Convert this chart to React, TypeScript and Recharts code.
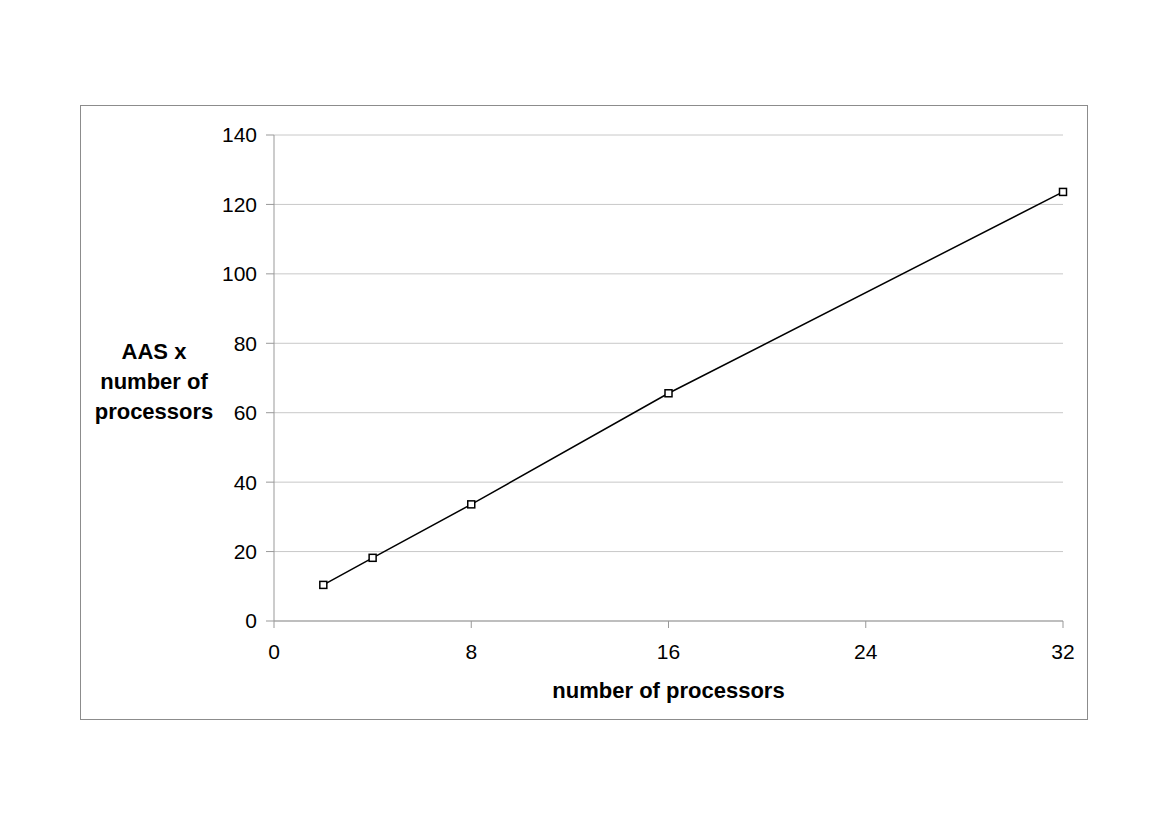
import { LineChart, Line, XAxis, YAxis, CartesianGrid } from 'recharts';

const processors = [2, 4, 8, 16, 32];
const aasTimesProcessors = [10.4, 18.2, 33.6, 65.6, 123.6];
const xTicks = [0, 8, 16, 24, 32];
const yTicks = [0, 20, 40, 60, 80, 100, 120, 140];
const yLabelLines = ['AAS x', 'number of', 'processors'];
const xLabel = 'number of processors';

const data = processors.map((p, i) => ({ p, v: aasTimesProcessors[i] }));

const FONT = '"Liberation Sans", Arial, sans-serif';

const SquareDot = (props: { cx?: number; cy?: number; index?: number }) => {
    const { cx, cy, index } = props;
    if (cx == null || cy == null) return null;
    return (
        <rect
            key={`dot-${index}`}
            x={cx - 3.5}
            y={cy - 3.5}
            width={7}
            height={7}
            fill="#fff"
            stroke="#000"
            strokeWidth={1.5}
        />
    );
};

const YLabel = (props: { viewBox?: { x: number; y: number; width: number; height: number } }) => {
    const vb = props.viewBox;
    if (!vb) return null;
    const mid = vb.y + vb.height / 2;
    return (
        <g>
            {yLabelLines.map((line, i) => (
                <text
                    key={line}
                    x={154}
                    y={mid - 27 + i * 30}
                    textAnchor="middle"
                    dominantBaseline="central"
                    fontFamily={FONT}
                    fontSize={22}
                    fontWeight="bold"
                    fill="#000"
                >
                    {line}
                </text>
            ))}
        </g>
    );
};

const XLabel = (props: { viewBox?: { x: number; y: number; width: number; height: number } }) => {
    const vb = props.viewBox;
    if (!vb) return null;
    return (
        <text
            x={vb.x + vb.width / 2}
            y={vb.y + 69}
            textAnchor="middle"
            dominantBaseline="central"
            fontFamily={FONT}
            fontSize={22}
            fontWeight="bold"
            fill="#000"
        >
            {xLabel}
        </text>
    );
};

export default function App() {
    return (
        <div style={{ position: 'absolute', left: 0, top: 0, width: 1170, height: 827, background: '#fff' }}>
            <div
                style={{
                    position: 'absolute',
                    left: 80,
                    top: 105,
                    width: 1006,
                    height: 613,
                    border: '1px solid #8c8c8c',
                }}
            />
            <LineChart
                width={1170}
                height={827}
                data={data}
                margin={{ top: 135, right: 107, left: 0, bottom: 0 }}
            >
                <CartesianGrid vertical={false} stroke="#c8c8c8" strokeWidth={1} />
                <XAxis
                    type="number"
                    dataKey="p"
                    domain={[0, 32]}
                    ticks={xTicks}
                    height={206}
                    tickSize={7}
                    tickMargin={16}
                    stroke="#999"
                    tick={{ fill: '#000', fontSize: 21, fontFamily: FONT }}
                    label={<XLabel />}
                />
                <YAxis
                    type="number"
                    domain={[0, 140]}
                    ticks={yTicks}
                    width={274}
                    tickSize={8}
                    tickMargin={9}
                    stroke="#999"
                    tick={{ fill: '#000', fontSize: 21, fontFamily: FONT }}
                    label={<YLabel />}
                />
                <Line
                    type="linear"
                    dataKey="v"
                    stroke="#000"
                    strokeWidth={1.5}
                    dot={<SquareDot />}
                    isAnimationActive={false}
                />
            </LineChart>
        </div>
    );
}
